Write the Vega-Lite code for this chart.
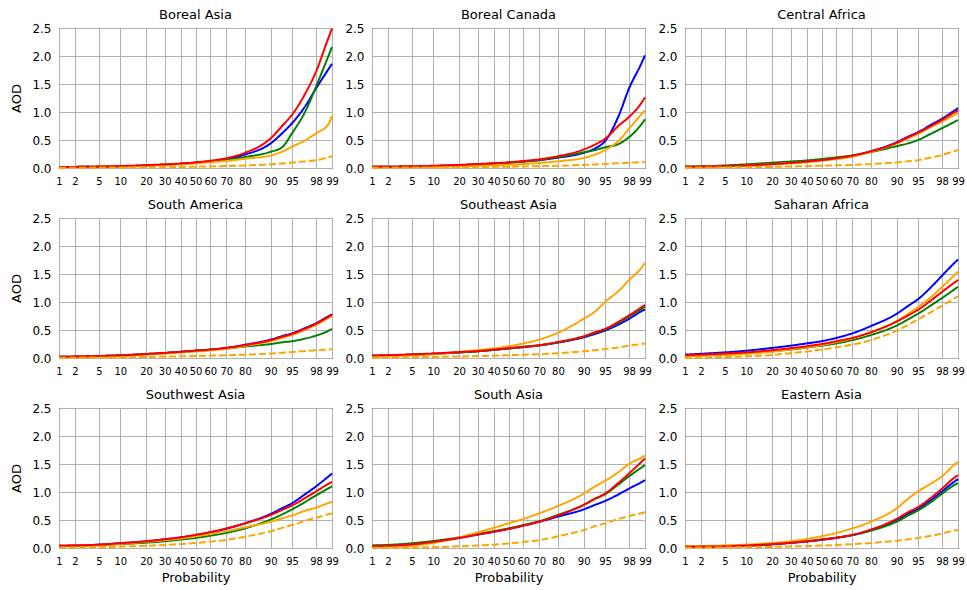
{
  "$schema": "https://vega.github.io/schema/vega-lite/v6.json",
  "padding": {"left": 10, "top": 8, "right": 5, "bottom": 5},
  "background": "white",
  "config": {
    "font": "DejaVu Sans",
    "view": {"stroke": "black", "strokeWidth": 1},
    "axis": {"grid": true, "gridColor": "#b0b0b0", "gridWidth": 1, "domain": false, "ticks": false, "labelColor": "black", "titleColor": "black", "titleFontWeight": "normal", "titleFontSize": 13, "labelOverlap": false},
    "axisX": {"labelFontSize": 10, "labelPadding": 8, "titlePadding": 5, "labelFlush": false},
    "axisY": {"labelFontSize": 12, "labelPadding": 8, "titlePadding": 8},
    "title": {"fontSize": 13, "fontWeight": "normal", "color": "black", "offset": 0},
    "line": {"strokeWidth": 2, "clip": true, "interpolate": "monotone"}
  },
  "datasets": {
    "d": [
      {"reg":"Boreal Asia","p":1,"b":0.02,"r":0.02,"g":0.02,"o":0.02,"od":0.005},
      {"reg":"Boreal Asia","p":2,"b":0.02,"r":0.02,"g":0.02,"o":0.02,"od":0.005},
      {"reg":"Boreal Asia","p":5,"b":0.025,"r":0.025,"g":0.025,"o":0.025,"od":0.008},
      {"reg":"Boreal Asia","p":10,"b":0.03,"r":0.035,"g":0.03,"o":0.03,"od":0.01},
      {"reg":"Boreal Asia","p":20,"b":0.045,"r":0.05,"g":0.045,"o":0.04,"od":0.013},
      {"reg":"Boreal Asia","p":30,"b":0.06,"r":0.065,"g":0.06,"o":0.055,"od":0.016},
      {"reg":"Boreal Asia","p":40,"b":0.075,"r":0.08,"g":0.075,"o":0.065,"od":0.02},
      {"reg":"Boreal Asia","p":50,"b":0.095,"r":0.1,"g":0.095,"o":0.08,"od":0.024},
      {"reg":"Boreal Asia","p":60,"b":0.12,"r":0.13,"g":0.115,"o":0.1,"od":0.028},
      {"reg":"Boreal Asia","p":70,"b":0.16,"r":0.175,"g":0.145,"o":0.125,"od":0.034},
      {"reg":"Boreal Asia","p":80,"b":0.24,"r":0.27,"g":0.195,"o":0.165,"od":0.045},
      {"reg":"Boreal Asia","p":90,"b":0.44,"r":0.53,"g":0.29,"o":0.225,"od":0.065},
      {"reg":"Boreal Asia","p":93,"b":0.62,"r":0.75,"g":0.37,"o":0.29,"od":0.08},
      {"reg":"Boreal Asia","p":95,"b":0.8,"r":0.95,"g":0.62,"o":0.38,"od":0.095},
      {"reg":"Boreal Asia","p":97,"b":1.12,"r":1.35,"g":1.03,"o":0.5,"od":0.12},
      {"reg":"Boreal Asia","p":98,"b":1.42,"r":1.72,"g":1.45,"o":0.62,"od":0.14},
      {"reg":"Boreal Asia","p":98.8,"b":1.75,"r":2.3,"g":1.98,"o":0.77,"od":0.19},
      {"reg":"Boreal Asia","p":99,"b":1.86,"r":2.49,"g":2.16,"o":0.93,"od":0.21},

      {"reg":"Boreal Canada","p":1,"b":0.02,"r":0.02,"g":0.02,"o":0.015,"od":0.005},
      {"reg":"Boreal Canada","p":2,"b":0.022,"r":0.022,"g":0.022,"o":0.016,"od":0.006},
      {"reg":"Boreal Canada","p":5,"b":0.028,"r":0.03,"g":0.028,"o":0.02,"od":0.008},
      {"reg":"Boreal Canada","p":10,"b":0.035,"r":0.04,"g":0.035,"o":0.025,"od":0.01},
      {"reg":"Boreal Canada","p":20,"b":0.05,"r":0.055,"g":0.05,"o":0.03,"od":0.013},
      {"reg":"Boreal Canada","p":30,"b":0.065,"r":0.07,"g":0.065,"o":0.04,"od":0.016},
      {"reg":"Boreal Canada","p":40,"b":0.08,"r":0.085,"g":0.08,"o":0.05,"od":0.02},
      {"reg":"Boreal Canada","p":50,"b":0.095,"r":0.1,"g":0.095,"o":0.058,"od":0.024},
      {"reg":"Boreal Canada","p":60,"b":0.115,"r":0.125,"g":0.115,"o":0.07,"od":0.028},
      {"reg":"Boreal Canada","p":70,"b":0.14,"r":0.155,"g":0.145,"o":0.09,"od":0.033},
      {"reg":"Boreal Canada","p":80,"b":0.185,"r":0.21,"g":0.195,"o":0.12,"od":0.04},
      {"reg":"Boreal Canada","p":90,"b":0.27,"r":0.33,"g":0.28,"o":0.18,"od":0.055},
      {"reg":"Boreal Canada","p":93,"b":0.35,"r":0.42,"g":0.32,"o":0.24,"od":0.063},
      {"reg":"Boreal Canada","p":95,"b":0.48,"r":0.52,"g":0.37,"o":0.32,"od":0.072},
      {"reg":"Boreal Canada","p":97,"b":0.94,"r":0.76,"g":0.43,"o":0.49,"od":0.085},
      {"reg":"Boreal Canada","p":98,"b":1.42,"r":0.91,"g":0.55,"o":0.7,"od":0.095},
      {"reg":"Boreal Canada","p":98.8,"b":1.85,"r":1.15,"g":0.77,"o":0.95,"od":0.105},
      {"reg":"Boreal Canada","p":99,"b":2.01,"r":1.26,"g":0.87,"o":1.03,"od":0.11},

      {"reg":"Central Africa","p":1,"b":0.02,"r":0.02,"g":0.025,"o":0.015,"od":0.005},
      {"reg":"Central Africa","p":2,"b":0.025,"r":0.025,"g":0.03,"o":0.02,"od":0.007},
      {"reg":"Central Africa","p":5,"b":0.035,"r":0.035,"g":0.045,"o":0.03,"od":0.01},
      {"reg":"Central Africa","p":10,"b":0.05,"r":0.045,"g":0.065,"o":0.04,"od":0.015},
      {"reg":"Central Africa","p":20,"b":0.075,"r":0.07,"g":0.095,"o":0.065,"od":0.02},
      {"reg":"Central Africa","p":30,"b":0.095,"r":0.09,"g":0.115,"o":0.085,"od":0.027},
      {"reg":"Central Africa","p":40,"b":0.12,"r":0.115,"g":0.135,"o":0.105,"od":0.033},
      {"reg":"Central Africa","p":50,"b":0.145,"r":0.14,"g":0.16,"o":0.13,"od":0.04},
      {"reg":"Central Africa","p":60,"b":0.175,"r":0.175,"g":0.19,"o":0.16,"od":0.047},
      {"reg":"Central Africa","p":70,"b":0.22,"r":0.22,"g":0.225,"o":0.2,"od":0.055},
      {"reg":"Central Africa","p":80,"b":0.3,"r":0.3,"g":0.285,"o":0.29,"od":0.07},
      {"reg":"Central Africa","p":90,"b":0.46,"r":0.45,"g":0.39,"o":0.44,"od":0.1},
      {"reg":"Central Africa","p":93,"b":0.56,"r":0.55,"g":0.44,"o":0.53,"od":0.12},
      {"reg":"Central Africa","p":95,"b":0.64,"r":0.63,"g":0.5,"o":0.61,"od":0.14},
      {"reg":"Central Africa","p":97,"b":0.78,"r":0.76,"g":0.62,"o":0.74,"od":0.19},
      {"reg":"Central Africa","p":98,"b":0.88,"r":0.86,"g":0.71,"o":0.83,"od":0.23},
      {"reg":"Central Africa","p":98.8,"b":1.02,"r":0.99,"g":0.82,"o":0.94,"od":0.3},
      {"reg":"Central Africa","p":99,"b":1.07,"r":1.03,"g":0.86,"o":0.98,"od":0.32},

      {"reg":"South America","p":1,"b":0.02,"r":0.02,"g":0.02,"o":0.015,"od":0.005},
      {"reg":"South America","p":2,"b":0.025,"r":0.025,"g":0.025,"o":0.02,"od":0.006},
      {"reg":"South America","p":5,"b":0.035,"r":0.035,"g":0.035,"o":0.025,"od":0.008},
      {"reg":"South America","p":10,"b":0.045,"r":0.045,"g":0.05,"o":0.035,"od":0.012},
      {"reg":"South America","p":20,"b":0.07,"r":0.07,"g":0.07,"o":0.06,"od":0.018},
      {"reg":"South America","p":30,"b":0.09,"r":0.09,"g":0.09,"o":0.08,"od":0.025},
      {"reg":"South America","p":40,"b":0.11,"r":0.11,"g":0.11,"o":0.1,"od":0.03},
      {"reg":"South America","p":50,"b":0.13,"r":0.13,"g":0.13,"o":0.115,"od":0.036},
      {"reg":"South America","p":60,"b":0.15,"r":0.15,"g":0.15,"o":0.135,"od":0.043},
      {"reg":"South America","p":70,"b":0.18,"r":0.18,"g":0.17,"o":0.165,"od":0.05},
      {"reg":"South America","p":80,"b":0.235,"r":0.23,"g":0.205,"o":0.215,"od":0.06},
      {"reg":"South America","p":90,"b":0.33,"r":0.32,"g":0.25,"o":0.3,"od":0.08},
      {"reg":"South America","p":93,"b":0.39,"r":0.38,"g":0.28,"o":0.36,"od":0.095},
      {"reg":"South America","p":95,"b":0.44,"r":0.43,"g":0.3,"o":0.41,"od":0.105},
      {"reg":"South America","p":97,"b":0.54,"r":0.53,"g":0.35,"o":0.51,"od":0.125},
      {"reg":"South America","p":98,"b":0.62,"r":0.61,"g":0.4,"o":0.59,"od":0.14},
      {"reg":"South America","p":98.8,"b":0.74,"r":0.73,"g":0.48,"o":0.71,"od":0.15},
      {"reg":"South America","p":99,"b":0.78,"r":0.77,"g":0.52,"o":0.75,"od":0.155},

      {"reg":"Southeast Asia","p":1,"b":0.04,"r":0.045,"g":0.04,"o":0.03,"od":0.01},
      {"reg":"Southeast Asia","p":2,"b":0.045,"r":0.05,"g":0.045,"o":0.035,"od":0.012},
      {"reg":"Southeast Asia","p":5,"b":0.06,"r":0.065,"g":0.06,"o":0.05,"od":0.015},
      {"reg":"Southeast Asia","p":10,"b":0.075,"r":0.08,"g":0.075,"o":0.07,"od":0.02},
      {"reg":"Southeast Asia","p":20,"b":0.1,"r":0.105,"g":0.1,"o":0.11,"od":0.028},
      {"reg":"Southeast Asia","p":30,"b":0.12,"r":0.125,"g":0.12,"o":0.14,"od":0.035},
      {"reg":"Southeast Asia","p":40,"b":0.145,"r":0.15,"g":0.145,"o":0.17,"od":0.042},
      {"reg":"Southeast Asia","p":50,"b":0.17,"r":0.175,"g":0.17,"o":0.21,"od":0.05},
      {"reg":"Southeast Asia","p":60,"b":0.195,"r":0.2,"g":0.195,"o":0.26,"od":0.058},
      {"reg":"Southeast Asia","p":70,"b":0.225,"r":0.23,"g":0.225,"o":0.33,"od":0.068},
      {"reg":"Southeast Asia","p":80,"b":0.275,"r":0.285,"g":0.28,"o":0.45,"od":0.085},
      {"reg":"Southeast Asia","p":90,"b":0.37,"r":0.39,"g":0.38,"o":0.7,"od":0.12},
      {"reg":"Southeast Asia","p":93,"b":0.43,"r":0.46,"g":0.45,"o":0.83,"od":0.14},
      {"reg":"Southeast Asia","p":95,"b":0.49,"r":0.52,"g":0.51,"o":1.0,"od":0.16},
      {"reg":"Southeast Asia","p":97,"b":0.6,"r":0.65,"g":0.63,"o":1.2,"od":0.19},
      {"reg":"Southeast Asia","p":98,"b":0.7,"r":0.76,"g":0.74,"o":1.39,"od":0.22},
      {"reg":"Southeast Asia","p":98.8,"b":0.83,"r":0.9,"g":0.87,"o":1.6,"od":0.25},
      {"reg":"Southeast Asia","p":99,"b":0.87,"r":0.95,"g":0.92,"o":1.7,"od":0.26},

      {"reg":"Saharan Africa","p":1,"b":0.06,"r":0.05,"g":0.04,"o":0.03,"od":0.005},
      {"reg":"Saharan Africa","p":2,"b":0.075,"r":0.06,"g":0.05,"o":0.04,"od":0.01},
      {"reg":"Saharan Africa","p":5,"b":0.1,"r":0.08,"g":0.065,"o":0.055,"od":0.018},
      {"reg":"Saharan Africa","p":10,"b":0.13,"r":0.1,"g":0.085,"o":0.075,"od":0.03},
      {"reg":"Saharan Africa","p":20,"b":0.18,"r":0.14,"g":0.12,"o":0.115,"od":0.055},
      {"reg":"Saharan Africa","p":30,"b":0.22,"r":0.175,"g":0.15,"o":0.155,"od":0.085},
      {"reg":"Saharan Africa","p":40,"b":0.26,"r":0.21,"g":0.185,"o":0.19,"od":0.115},
      {"reg":"Saharan Africa","p":50,"b":0.3,"r":0.25,"g":0.22,"o":0.23,"od":0.15},
      {"reg":"Saharan Africa","p":60,"b":0.36,"r":0.3,"g":0.26,"o":0.285,"od":0.19},
      {"reg":"Saharan Africa","p":70,"b":0.44,"r":0.36,"g":0.32,"o":0.35,"od":0.24},
      {"reg":"Saharan Africa","p":80,"b":0.57,"r":0.46,"g":0.41,"o":0.46,"od":0.32},
      {"reg":"Saharan Africa","p":90,"b":0.79,"r":0.65,"g":0.58,"o":0.66,"od":0.49},
      {"reg":"Saharan Africa","p":93,"b":0.93,"r":0.76,"g":0.69,"o":0.79,"od":0.59},
      {"reg":"Saharan Africa","p":95,"b":1.05,"r":0.86,"g":0.79,"o":0.91,"od":0.69},
      {"reg":"Saharan Africa","p":97,"b":1.28,"r":1.04,"g":0.95,"o":1.1,"od":0.83},
      {"reg":"Saharan Africa","p":98,"b":1.47,"r":1.18,"g":1.07,"o":1.27,"od":0.93},
      {"reg":"Saharan Africa","p":98.8,"b":1.69,"r":1.34,"g":1.22,"o":1.47,"od":1.06},
      {"reg":"Saharan Africa","p":99,"b":1.76,"r":1.39,"g":1.27,"o":1.54,"od":1.1},

      {"reg":"Southwest Asia","p":1,"b":0.04,"r":0.04,"g":0.035,"o":0.04,"od":0.005},
      {"reg":"Southwest Asia","p":2,"b":0.045,"r":0.045,"g":0.04,"o":0.045,"od":0.01},
      {"reg":"Southwest Asia","p":5,"b":0.06,"r":0.06,"g":0.05,"o":0.055,"od":0.015},
      {"reg":"Southwest Asia","p":10,"b":0.085,"r":0.085,"g":0.07,"o":0.075,"od":0.025},
      {"reg":"Southwest Asia","p":20,"b":0.12,"r":0.12,"g":0.095,"o":0.11,"od":0.04},
      {"reg":"Southwest Asia","p":30,"b":0.155,"r":0.155,"g":0.12,"o":0.14,"od":0.055},
      {"reg":"Southwest Asia","p":40,"b":0.19,"r":0.19,"g":0.15,"o":0.17,"od":0.07},
      {"reg":"Southwest Asia","p":50,"b":0.23,"r":0.235,"g":0.18,"o":0.205,"od":0.09},
      {"reg":"Southwest Asia","p":60,"b":0.28,"r":0.285,"g":0.22,"o":0.25,"od":0.115},
      {"reg":"Southwest Asia","p":70,"b":0.345,"r":0.35,"g":0.27,"o":0.3,"od":0.145},
      {"reg":"Southwest Asia","p":80,"b":0.44,"r":0.44,"g":0.35,"o":0.37,"od":0.2},
      {"reg":"Southwest Asia","p":90,"b":0.61,"r":0.59,"g":0.51,"o":0.47,"od":0.3},
      {"reg":"Southwest Asia","p":93,"b":0.71,"r":0.68,"g":0.6,"o":0.53,"od":0.36},
      {"reg":"Southwest Asia","p":95,"b":0.8,"r":0.76,"g":0.69,"o":0.58,"od":0.41},
      {"reg":"Southwest Asia","p":97,"b":0.97,"r":0.9,"g":0.83,"o":0.67,"od":0.49},
      {"reg":"Southwest Asia","p":98,"b":1.1,"r":1.01,"g":0.94,"o":0.72,"od":0.54},
      {"reg":"Southwest Asia","p":98.8,"b":1.27,"r":1.14,"g":1.06,"o":0.8,"od":0.6},
      {"reg":"Southwest Asia","p":99,"b":1.33,"r":1.18,"g":1.1,"o":0.82,"od":0.62},

      {"reg":"South Asia","p":1,"b":0.04,"r":0.035,"g":0.045,"o":0.02,"od":0.003},
      {"reg":"South Asia","p":2,"b":0.045,"r":0.04,"g":0.055,"o":0.025,"od":0.005},
      {"reg":"South Asia","p":5,"b":0.07,"r":0.065,"g":0.085,"o":0.04,"od":0.008},
      {"reg":"South Asia","p":10,"b":0.11,"r":0.11,"g":0.125,"o":0.09,"od":0.015},
      {"reg":"South Asia","p":20,"b":0.18,"r":0.18,"g":0.19,"o":0.19,"od":0.03},
      {"reg":"South Asia","p":30,"b":0.24,"r":0.24,"g":0.25,"o":0.28,"od":0.045},
      {"reg":"South Asia","p":40,"b":0.29,"r":0.29,"g":0.3,"o":0.36,"od":0.06},
      {"reg":"South Asia","p":50,"b":0.34,"r":0.34,"g":0.35,"o":0.44,"od":0.08},
      {"reg":"South Asia","p":60,"b":0.4,"r":0.4,"g":0.41,"o":0.52,"od":0.105},
      {"reg":"South Asia","p":70,"b":0.47,"r":0.47,"g":0.48,"o":0.62,"od":0.14},
      {"reg":"South Asia","p":80,"b":0.56,"r":0.58,"g":0.59,"o":0.75,"od":0.21},
      {"reg":"South Asia","p":90,"b":0.69,"r":0.77,"g":0.77,"o":0.97,"od":0.32},
      {"reg":"South Asia","p":93,"b":0.77,"r":0.88,"g":0.88,"o":1.1,"od":0.39},
      {"reg":"South Asia","p":95,"b":0.84,"r":0.97,"g":0.96,"o":1.2,"od":0.44},
      {"reg":"South Asia","p":97,"b":0.96,"r":1.17,"g":1.14,"o":1.36,"od":0.52},
      {"reg":"South Asia","p":98,"b":1.06,"r":1.33,"g":1.28,"o":1.5,"od":0.57},
      {"reg":"South Asia","p":98.8,"b":1.17,"r":1.53,"g":1.43,"o":1.61,"od":0.62},
      {"reg":"South Asia","p":99,"b":1.21,"r":1.6,"g":1.48,"o":1.65,"od":0.64},

      {"reg":"Eastern Asia","p":1,"b":0.02,"r":0.02,"g":0.02,"o":0.03,"od":0.005},
      {"reg":"Eastern Asia","p":2,"b":0.025,"r":0.025,"g":0.025,"o":0.035,"od":0.007},
      {"reg":"Eastern Asia","p":5,"b":0.03,"r":0.03,"g":0.035,"o":0.045,"od":0.01},
      {"reg":"Eastern Asia","p":10,"b":0.04,"r":0.045,"g":0.045,"o":0.06,"od":0.014},
      {"reg":"Eastern Asia","p":20,"b":0.065,"r":0.07,"g":0.07,"o":0.09,"od":0.02},
      {"reg":"Eastern Asia","p":30,"b":0.09,"r":0.095,"g":0.095,"o":0.12,"od":0.027},
      {"reg":"Eastern Asia","p":40,"b":0.115,"r":0.12,"g":0.12,"o":0.16,"od":0.034},
      {"reg":"Eastern Asia","p":50,"b":0.145,"r":0.15,"g":0.15,"o":0.21,"od":0.043},
      {"reg":"Eastern Asia","p":60,"b":0.18,"r":0.185,"g":0.185,"o":0.27,"od":0.055},
      {"reg":"Eastern Asia","p":70,"b":0.23,"r":0.235,"g":0.23,"o":0.35,"od":0.068},
      {"reg":"Eastern Asia","p":80,"b":0.32,"r":0.33,"g":0.31,"o":0.47,"od":0.09},
      {"reg":"Eastern Asia","p":90,"b":0.5,"r":0.52,"g":0.47,"o":0.71,"od":0.13},
      {"reg":"Eastern Asia","p":93,"b":0.61,"r":0.64,"g":0.58,"o":0.88,"od":0.155},
      {"reg":"Eastern Asia","p":95,"b":0.7,"r":0.73,"g":0.67,"o":1.01,"od":0.18},
      {"reg":"Eastern Asia","p":97,"b":0.87,"r":0.91,"g":0.83,"o":1.16,"od":0.22},
      {"reg":"Eastern Asia","p":98,"b":1.01,"r":1.06,"g":0.97,"o":1.28,"od":0.26},
      {"reg":"Eastern Asia","p":98.8,"b":1.18,"r":1.25,"g":1.12,"o":1.48,"od":0.31},
      {"reg":"Eastern Asia","p":99,"b":1.23,"r":1.3,"g":1.16,"o":1.54,"od":0.32}
    ]
  },
  "data": {"name": "d"},
  "transform": [
    {"fold": ["b", "g", "o", "r", "od"], "as": ["series", "aod"]},
    {"calculate": "quantileNormal(datum.p / 100)", "as": "z"}
  ],
  "columns": 3,
  "spacing": {"row": 50, "column": 40},
  "bounds": "flush",
  "concat": [
    {"title": {"text": "Boreal Asia", "offset": 0}, "width": 273, "height": 140,
     "transform": [{"filter": "datum.reg === 'Boreal Asia'"}],
     "mark": {"type": "line"},
     "encoding": {
       "x": {"field": "z", "type": "quantitative", "scale": {"domain": [-2.326348, 2.326348], "nice": false, "zero": false}, "axis": {"title": null, "values": [-2.326348, -2.053749, -1.644854, -1.281552, -0.841621, -0.524401, -0.253347, 0, 0.253347, 0.524401, 0.841621, 1.281552, 1.644854, 2.053749, 2.326348], "labelExpr": "format(cumulativeNormal(datum.value) * 100, '.0f')"}},
       "y": {"field": "aod", "type": "quantitative", "scale": {"domain": [0, 2.5], "nice": false}, "axis": {"title": "AOD", "values": [0, 0.5, 1, 1.5, 2, 2.5], "format": ".1f"}},
       "color": {"field": "series", "type": "nominal", "scale": {"domain": ["b", "g", "o", "r", "od"], "range": ["#0000ff", "#008000", "#ffa500", "#ff0000", "#ffa500"]}, "legend": null},
       "strokeDash": {"field": "series", "type": "nominal", "scale": {"domain": ["b", "g", "o", "r", "od"], "range": [[1, 0], [1, 0], [1, 0], [1, 0], [7, 3]]}, "legend": null}
     }},
    {"title": {"text": "Boreal Canada", "offset": 0}, "width": 273, "height": 140,
     "transform": [{"filter": "datum.reg === 'Boreal Canada'"}],
     "mark": {"type": "line"},
     "encoding": {
       "x": {"field": "z", "type": "quantitative", "scale": {"domain": [-2.326348, 2.326348], "nice": false, "zero": false}, "axis": {"title": null, "values": [-2.326348, -2.053749, -1.644854, -1.281552, -0.841621, -0.524401, -0.253347, 0, 0.253347, 0.524401, 0.841621, 1.281552, 1.644854, 2.053749, 2.326348], "labelExpr": "format(cumulativeNormal(datum.value) * 100, '.0f')"}},
       "y": {"field": "aod", "type": "quantitative", "scale": {"domain": [0, 2.5], "nice": false}, "axis": {"title": null, "values": [0, 0.5, 1, 1.5, 2, 2.5], "format": ".1f"}},
       "color": {"field": "series", "type": "nominal", "scale": {"domain": ["b", "g", "o", "r", "od"], "range": ["#0000ff", "#008000", "#ffa500", "#ff0000", "#ffa500"]}, "legend": null},
       "strokeDash": {"field": "series", "type": "nominal", "scale": {"domain": ["b", "g", "o", "r", "od"], "range": [[1, 0], [1, 0], [1, 0], [1, 0], [7, 3]]}, "legend": null}
     }},
    {"title": {"text": "Central Africa", "offset": 0}, "width": 273, "height": 140,
     "transform": [{"filter": "datum.reg === 'Central Africa'"}],
     "mark": {"type": "line"},
     "encoding": {
       "x": {"field": "z", "type": "quantitative", "scale": {"domain": [-2.326348, 2.326348], "nice": false, "zero": false}, "axis": {"title": null, "values": [-2.326348, -2.053749, -1.644854, -1.281552, -0.841621, -0.524401, -0.253347, 0, 0.253347, 0.524401, 0.841621, 1.281552, 1.644854, 2.053749, 2.326348], "labelExpr": "format(cumulativeNormal(datum.value) * 100, '.0f')"}},
       "y": {"field": "aod", "type": "quantitative", "scale": {"domain": [0, 2.5], "nice": false}, "axis": {"title": null, "values": [0, 0.5, 1, 1.5, 2, 2.5], "format": ".1f"}},
       "color": {"field": "series", "type": "nominal", "scale": {"domain": ["b", "g", "o", "r", "od"], "range": ["#0000ff", "#008000", "#ffa500", "#ff0000", "#ffa500"]}, "legend": null},
       "strokeDash": {"field": "series", "type": "nominal", "scale": {"domain": ["b", "g", "o", "r", "od"], "range": [[1, 0], [1, 0], [1, 0], [1, 0], [7, 3]]}, "legend": null}
     }},
    {"title": {"text": "South America", "offset": 0}, "width": 273, "height": 140,
     "transform": [{"filter": "datum.reg === 'South America'"}],
     "mark": {"type": "line"},
     "encoding": {
       "x": {"field": "z", "type": "quantitative", "scale": {"domain": [-2.326348, 2.326348], "nice": false, "zero": false}, "axis": {"title": null, "values": [-2.326348, -2.053749, -1.644854, -1.281552, -0.841621, -0.524401, -0.253347, 0, 0.253347, 0.524401, 0.841621, 1.281552, 1.644854, 2.053749, 2.326348], "labelExpr": "format(cumulativeNormal(datum.value) * 100, '.0f')"}},
       "y": {"field": "aod", "type": "quantitative", "scale": {"domain": [0, 2.5], "nice": false}, "axis": {"title": "AOD", "values": [0, 0.5, 1, 1.5, 2, 2.5], "format": ".1f"}},
       "color": {"field": "series", "type": "nominal", "scale": {"domain": ["b", "g", "o", "r", "od"], "range": ["#0000ff", "#008000", "#ffa500", "#ff0000", "#ffa500"]}, "legend": null},
       "strokeDash": {"field": "series", "type": "nominal", "scale": {"domain": ["b", "g", "o", "r", "od"], "range": [[1, 0], [1, 0], [1, 0], [1, 0], [7, 3]]}, "legend": null}
     }},
    {"title": {"text": "Southeast Asia", "offset": 0}, "width": 273, "height": 140,
     "transform": [{"filter": "datum.reg === 'Southeast Asia'"}],
     "mark": {"type": "line"},
     "encoding": {
       "x": {"field": "z", "type": "quantitative", "scale": {"domain": [-2.326348, 2.326348], "nice": false, "zero": false}, "axis": {"title": null, "values": [-2.326348, -2.053749, -1.644854, -1.281552, -0.841621, -0.524401, -0.253347, 0, 0.253347, 0.524401, 0.841621, 1.281552, 1.644854, 2.053749, 2.326348], "labelExpr": "format(cumulativeNormal(datum.value) * 100, '.0f')"}},
       "y": {"field": "aod", "type": "quantitative", "scale": {"domain": [0, 2.5], "nice": false}, "axis": {"title": null, "values": [0, 0.5, 1, 1.5, 2, 2.5], "format": ".1f"}},
       "color": {"field": "series", "type": "nominal", "scale": {"domain": ["b", "g", "o", "r", "od"], "range": ["#0000ff", "#008000", "#ffa500", "#ff0000", "#ffa500"]}, "legend": null},
       "strokeDash": {"field": "series", "type": "nominal", "scale": {"domain": ["b", "g", "o", "r", "od"], "range": [[1, 0], [1, 0], [1, 0], [1, 0], [7, 3]]}, "legend": null}
     }},
    {"title": {"text": "Saharan Africa", "offset": 0}, "width": 273, "height": 140,
     "transform": [{"filter": "datum.reg === 'Saharan Africa'"}],
     "mark": {"type": "line"},
     "encoding": {
       "x": {"field": "z", "type": "quantitative", "scale": {"domain": [-2.326348, 2.326348], "nice": false, "zero": false}, "axis": {"title": null, "values": [-2.326348, -2.053749, -1.644854, -1.281552, -0.841621, -0.524401, -0.253347, 0, 0.253347, 0.524401, 0.841621, 1.281552, 1.644854, 2.053749, 2.326348], "labelExpr": "format(cumulativeNormal(datum.value) * 100, '.0f')"}},
       "y": {"field": "aod", "type": "quantitative", "scale": {"domain": [0, 2.5], "nice": false}, "axis": {"title": null, "values": [0, 0.5, 1, 1.5, 2, 2.5], "format": ".1f"}},
       "color": {"field": "series", "type": "nominal", "scale": {"domain": ["b", "g", "o", "r", "od"], "range": ["#0000ff", "#008000", "#ffa500", "#ff0000", "#ffa500"]}, "legend": null},
       "strokeDash": {"field": "series", "type": "nominal", "scale": {"domain": ["b", "g", "o", "r", "od"], "range": [[1, 0], [1, 0], [1, 0], [1, 0], [7, 3]]}, "legend": null}
     }},
    {"title": {"text": "Southwest Asia", "offset": 0}, "width": 273, "height": 140,
     "transform": [{"filter": "datum.reg === 'Southwest Asia'"}],
     "mark": {"type": "line"},
     "encoding": {
       "x": {"field": "z", "type": "quantitative", "scale": {"domain": [-2.326348, 2.326348], "nice": false, "zero": false}, "axis": {"title": "Probability", "values": [-2.326348, -2.053749, -1.644854, -1.281552, -0.841621, -0.524401, -0.253347, 0, 0.253347, 0.524401, 0.841621, 1.281552, 1.644854, 2.053749, 2.326348], "labelExpr": "format(cumulativeNormal(datum.value) * 100, '.0f')"}},
       "y": {"field": "aod", "type": "quantitative", "scale": {"domain": [0, 2.5], "nice": false}, "axis": {"title": "AOD", "values": [0, 0.5, 1, 1.5, 2, 2.5], "format": ".1f"}},
       "color": {"field": "series", "type": "nominal", "scale": {"domain": ["b", "g", "o", "r", "od"], "range": ["#0000ff", "#008000", "#ffa500", "#ff0000", "#ffa500"]}, "legend": null},
       "strokeDash": {"field": "series", "type": "nominal", "scale": {"domain": ["b", "g", "o", "r", "od"], "range": [[1, 0], [1, 0], [1, 0], [1, 0], [7, 3]]}, "legend": null}
     }},
    {"title": {"text": "South Asia", "offset": 0}, "width": 273, "height": 140,
     "transform": [{"filter": "datum.reg === 'South Asia'"}],
     "mark": {"type": "line"},
     "encoding": {
       "x": {"field": "z", "type": "quantitative", "scale": {"domain": [-2.326348, 2.326348], "nice": false, "zero": false}, "axis": {"title": "Probability", "values": [-2.326348, -2.053749, -1.644854, -1.281552, -0.841621, -0.524401, -0.253347, 0, 0.253347, 0.524401, 0.841621, 1.281552, 1.644854, 2.053749, 2.326348], "labelExpr": "format(cumulativeNormal(datum.value) * 100, '.0f')"}},
       "y": {"field": "aod", "type": "quantitative", "scale": {"domain": [0, 2.5], "nice": false}, "axis": {"title": null, "values": [0, 0.5, 1, 1.5, 2, 2.5], "format": ".1f"}},
       "color": {"field": "series", "type": "nominal", "scale": {"domain": ["b", "g", "o", "r", "od"], "range": ["#0000ff", "#008000", "#ffa500", "#ff0000", "#ffa500"]}, "legend": null},
       "strokeDash": {"field": "series", "type": "nominal", "scale": {"domain": ["b", "g", "o", "r", "od"], "range": [[1, 0], [1, 0], [1, 0], [1, 0], [7, 3]]}, "legend": null}
     }},
    {"title": {"text": "Eastern Asia", "offset": 0}, "width": 273, "height": 140,
     "transform": [{"filter": "datum.reg === 'Eastern Asia'"}],
     "mark": {"type": "line"},
     "encoding": {
       "x": {"field": "z", "type": "quantitative", "scale": {"domain": [-2.326348, 2.326348], "nice": false, "zero": false}, "axis": {"title": "Probability", "values": [-2.326348, -2.053749, -1.644854, -1.281552, -0.841621, -0.524401, -0.253347, 0, 0.253347, 0.524401, 0.841621, 1.281552, 1.644854, 2.053749, 2.326348], "labelExpr": "format(cumulativeNormal(datum.value) * 100, '.0f')"}},
       "y": {"field": "aod", "type": "quantitative", "scale": {"domain": [0, 2.5], "nice": false}, "axis": {"title": null, "values": [0, 0.5, 1, 1.5, 2, 2.5], "format": ".1f"}},
       "color": {"field": "series", "type": "nominal", "scale": {"domain": ["b", "g", "o", "r", "od"], "range": ["#0000ff", "#008000", "#ffa500", "#ff0000", "#ffa500"]}, "legend": null},
       "strokeDash": {"field": "series", "type": "nominal", "scale": {"domain": ["b", "g", "o", "r", "od"], "range": [[1, 0], [1, 0], [1, 0], [1, 0], [7, 3]]}, "legend": null}
     }}
  ]
}
